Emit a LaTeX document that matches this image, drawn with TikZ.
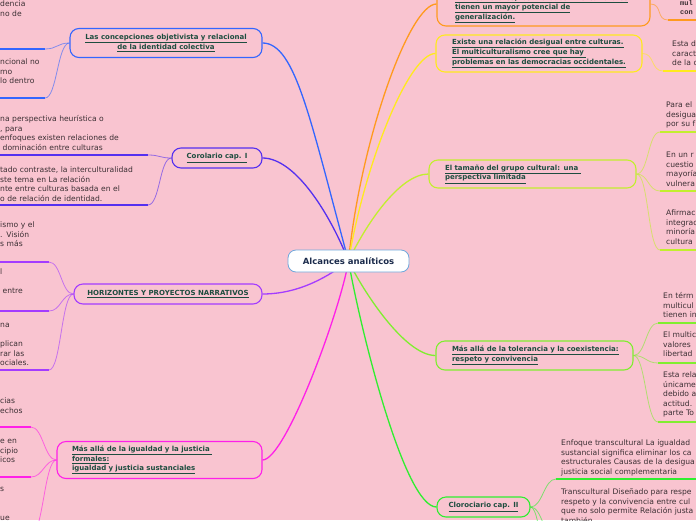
\documentclass[tikz,border=0pt]{standalone}
\usepackage{fontspec}
\setmainfont{DejaVu Sans}
\setmonofont{Liberation Mono}
\definecolor{fondo}{HTML}{F9C4D0}
\definecolor{tematexto}{HTML}{1D4D3F}
\definecolor{subtexto}{HTML}{3B2F33}
\definecolor{raiztexto}{HTML}{1B2B4B}
\definecolor{raizborde}{HTML}{6FA8DC}
\definecolor{azul}{HTML}{3366FF}
\definecolor{indigo}{HTML}{5530F0}
\definecolor{morado}{HTML}{A43CFF}
\definecolor{magenta}{HTML}{FF20E8}
\definecolor{naranja}{HTML}{FF9A1E}
\definecolor{amarillo}{HTML}{FFEA1E}
\definecolor{lima}{HTML}{C2EF2E}
\definecolor{verdeclaro}{HTML}{80EE30}
\definecolor{verde}{HTML}{30EE30}
\newcommand{\temaul}[1]{\underline{#1}}

\begin{document}
\begin{tikzpicture}[x=1pt, y=-1pt,
    tema/.style={draw=#1, line width=1.1pt, rounded corners=9pt, inner ysep=0pt,
        font=\bfseries\fontsize{7}{8.8}\selectfont, text=tematexto},
    subtema/.style={anchor=base west, inner sep=0pt, text width=160pt, align=left,
        font=\fontsize{7.6}{9.6}\selectfont, text=subtexto},
    rama/.style={line width=1.3pt},
    hilo/.style={line width=0.8pt, draw opacity=0.6},
    raya/.style={line width=2pt}]
    \useasboundingbox (0,0) rectangle (696,520);
    \clip (0,0) rectangle (696,520);
    \fill[fondo] (0,0) rectangle (696,520);

    % 1. Temas de la izquierda
    \node[tema=azul, minimum width=192pt, minimum height=29pt, align=center] (t1) at (166,43)
        {\temaul{Las concepciones objetivista y relacional}\\ \temaul{de la identidad colectiva}};
    \node[tema=indigo, minimum width=90pt, minimum height=20pt] (t2) at (217,158)
        {\temaul{Corolario cap. I}};
    \node[tema=morado, minimum width=188pt, minimum height=20pt] (t3) at (168,294)
        {\temaul{HORIZONTES Y PROYECTOS NARRATIVOS}};
    \node[tema=magenta, minimum width=205pt, minimum height=37pt, inner xsep=15pt,
        text width=175pt, align=left] (t4) at (159.5,460)
        {\temaul{Más allá de la igualdad y la justicia }\\ \temaul{formales:}\\
         \temaul{igualdad y justicia sustanciales}};

    % 2. Temas de la derecha
    \node[tema=naranja, minimum width=213pt, minimum height=44pt, inner xsep=18pt,
        text width=177pt, align=left, text height=15pt] (t5) at (543.5,4)
        {\temaul{multiculturales, los métodos interculturales}\\
         \temaul{tienen un mayor potencial de}\\ \temaul{generalización.}};
    \node[tema=amarillo, minimum width=206pt, minimum height=37pt, inner xsep=16pt,
        text width=174pt, align=left] (t6) at (539,53.5)
        {\temaul{Existe una relación desigual entre culturas.}\\
         \temaul{El multiculturalismo cree que hay }\\
         \temaul{problemas en las democracias occidentales.}};
    \node[tema=lima, minimum width=207pt, minimum height=28pt, inner xsep=16pt,
        text width=175pt, align=left] (t7) at (532.5,174)
        {\temaul{El tamaño del grupo cultural: una }\\ \temaul{perspectiva limitada}};
    \node[tema=verdeclaro, minimum width=197pt, minimum height=29pt, inner xsep=16pt,
        text width=165pt, align=left] (t8) at (534.5,355.5)
        {\temaul{Más allá de la tolerancia y la coexistencia:}\\ \temaul{respeto y convivencia}};
    \node[tema=verde, minimum width=93pt, minimum height=20pt] (t9) at (483.5,507)
        {\temaul{Clorociario cap. II}};

    % 3. Nodo central
    \node[minimum width=121pt, minimum height=22pt] (raiz) at (348.5,261) {};

    % 4. Ramas desde el centro
    \draw[rama, azul] (t1.east) .. controls +(33,0) and +(-38,-140) .. (raiz.center);
    \draw[rama, indigo] (t2.east) .. controls +(33,0) and +(-18,-46) .. (raiz.center);
    \draw[rama, morado] (t3.east) .. controls +(38,0) and +(-18,14) .. (raiz.center);
    \draw[rama, magenta] (t4.east) .. controls +(23,0) and +(-8,49) .. (raiz.center);
    \draw[rama, naranja] (t5.west) .. controls +(-27,0) and +(12,-121) .. (raiz.center);
    \draw[rama, amarillo] (t6.west) .. controls +(-26,0) and +(17,-101) .. (raiz.center);
    \draw[rama, lima] (t7.west) .. controls +(-29,0) and +(17,-36) .. (raiz.center);
    \draw[rama, verdeclaro] (t8.west) .. controls +(-31,0) and +(14,29) .. (raiz.center);
    \draw[rama, verde] (t9.west) .. controls +(-32,0) and +(12,69) .. (raiz.center);
    \node[draw=raizborde, fill=white, line width=0.8pt, rounded corners=8pt,
        minimum width=121pt, minimum height=22pt, text=raiztexto,
        font=\bfseries\fontsize{8.5}{10}\selectfont] (raiz texto) at (raiz) {Alcances analíticos};

    % 5. Subtemas de la izquierda (texto cortado por el borde)
    \coordinate (s1a) at (45,49);
    \coordinate (s1b) at (45,98);
    \node[subtema] (s1a texto) at (0,6.5) {dencia\\ no de};
    \node[subtema] (s1b texto) at (0,64.5) {ncional no\\ mo\\ lo dentro};

    \coordinate (s2a) at (148,155);
    \coordinate (s2b) at (148,205);
    \node[subtema] (s2a texto) at (0,121.5)
        {na perspectiva heurística o\\ , para\\ enfoques existen relaciones de\\ \ dominación entre culturas};
    \node[subtema] (s2b texto) at (0,172.5)
        {tado contraste, la interculturalidad\\ ste tema en La relación\\
         nte entre culturas basada en el\\ o de relación de identidad.};

    \coordinate (s3a) at (49,262);
    \coordinate (s3b) at (49,311);
    \coordinate (s3c) at (49,370);
    \node[subtema] (s3a texto) at (0,227.5) {ismo y el\\ . Visión\\ s más};
    \node[subtema] (s3b texto) at (0,274.5) {l\\[9.6pt] \ entre};
    \node[subtema] (s3c texto) at (0,327.5) {na\\[9.6pt] plican\\ rar las\\ ociales.};

    \coordinate (s4a) at (31,427);
    \coordinate (s4b) at (31,477);
    \coordinate (s4c) at (31,535);
    \node[subtema] (s4a texto) at (0,403.5) {cias\\ echos};
    \node[subtema] (s4b texto) at (0,443.5) {e en\\ cipio\\ icos};
    \node[subtema] (s4c texto) at (0,491.5) {s\\[19.2pt] ue};

    % 6. Subtemas de la derecha
    \coordinate (s5a) at (668,20);
    \node[subtema, font=\ttfamily\bfseries\fontsize{7}{9}\selectfont] (s5a texto) at (680,5.5) {mul\\ con};

    \coordinate (s6a) at (663,71);
    \node[subtema] (s6a texto) at (672,46.5) {Esta d\\ caract\\ de la c};

    \coordinate (s7a) at (660,132);
    \coordinate (s7b) at (660,191);
    \coordinate (s7c) at (660,250);
    \node[subtema] (s7a texto) at (666,107.5) {Para el\\ desigua\\ por su f};
    \node[subtema] (s7b texto) at (666,157.5) {En un r\\ cuestio\\ mayoría\\ vulnera};
    \node[subtema] (s7c texto) at (666,215.5) {Afirmac\\ integrac\\ minoría\\ cultura};

    \coordinate (s8a) at (658,323);
    \coordinate (s8b) at (658,363);
    \coordinate (s8c) at (658,422);
    \node[subtema] (s8a texto) at (663,298.5) {En térm\\ multicul\\ tienen in};
    \node[subtema] (s8b texto) at (663,337.5) {El multic\\ valores\\ libertad};
    \node[subtema] (s8c texto) at (663,377.5) {Esta rela\\ únicame\\ debido a\\ actitud.\\ parte To};

    \coordinate (s9a) at (556,479);
    \coordinate (s9b) at (556,540);
    \coordinate (s9c) at (556,610);
    \node[subtema, text width=200pt] (s9a texto) at (561,445.5)
        {Enfoque transcultural La igualdad\\ sustancial significa eliminar los ca\\
         estructurales Causas de la desigua\\ justicia social complementaria};
    \node[subtema, text width=200pt] (s9b texto) at (561,494.5)
        {Transcultural Diseñado para respe\\ respeto y la convivencia entre cul\\
         que no solo permite Relación justa\\ también};

    % 7. Hilos y rayas de los subtemas
    \foreach \s/\t/\c in {s1a/t1/azul, s1b/t1/azul, s2a/t2/indigo, s2b/t2/indigo,
        s3a/t3/morado, s3b/t3/morado, s3c/t3/morado,
        s4a/t4/magenta, s4b/t4/magenta, s4c/t4/magenta}{
        \draw[hilo, \c] (\t.west) .. controls +(-12,0) and +(12,0) .. (\s);
        \draw[raya, \c] (\s) -- +(-160,0);
    }
    \foreach \s/\t/\c in {s5a/t5/naranja, s6a/t6/amarillo,
        s7a/t7/lima, s7b/t7/lima, s7c/t7/lima,
        s8a/t8/verdeclaro, s8b/t8/verdeclaro, s8c/t8/verdeclaro,
        s9a/t9/verde, s9b/t9/verde, s9c/t9/verde}{
        \draw[hilo, \c] (\t.east) .. controls +(12,0) and +(-12,0) .. (\s);
        \draw[raya, \c] (\s) -- +(160,0);
    }
\end{tikzpicture}
\end{document}
